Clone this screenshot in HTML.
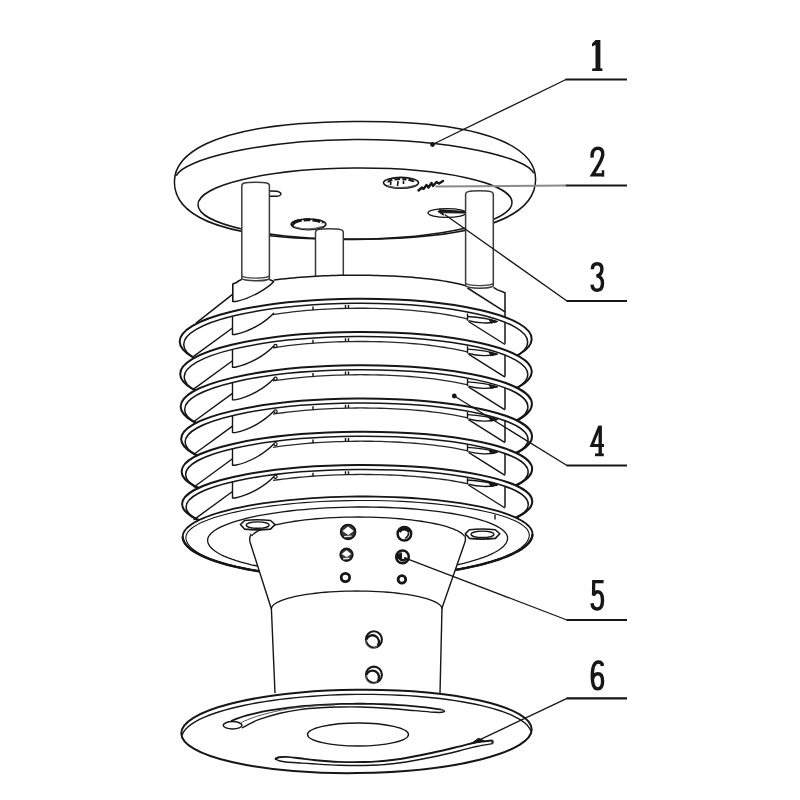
<!DOCTYPE html>
<html><head><meta charset="utf-8"><title>Figure</title>
<style>
html,body{margin:0;padding:0;background:#fff;}
body{width:800px;height:800px;overflow:hidden;font-family:"Liberation Serif",serif;}
svg{display:block;}
</style></head><body>
<svg width="800" height="800" viewBox="0 0 800 800" stroke-linecap="butt" stroke-linejoin="round">
<defs><filter id="soft" x="0" y="0" width="800" height="800" filterUnits="userSpaceOnUse"><feGaussianBlur stdDeviation="0.55"/></filter></defs>
<rect width="800" height="800" fill="#fff"/>
<g filter="url(#soft)">
<g transform="translate(355 -0.4) skewY(-0.4) translate(-355 0)">
<path d="M174.4,181 C174.4,159 199,121.8 355,121.8 C511,121.8 535.6,159 535.6,181 C535.6,209 507,239.8 355,239.8 C203,239.8 174.4,209 174.4,181 Z" fill="#fff" stroke="#151515" stroke-width="1.5" />
<path d="M176.3,175 C182.1,159 261,139.8 355,139.8 C449,139.8 527.9,159 533.7,175" fill="none" stroke="#151515" stroke-width="1.5" />
<ellipse cx="355" cy="204" rx="157" ry="35.5" fill="none" stroke="#151515" stroke-width="1.5"/>
</g>
<ellipse cx="308.5" cy="224.3" rx="17.3" ry="5.3" fill="none" stroke="#151515" stroke-width="1.7"/>
<path d="M294.5,223.6 A14,3.6 0 0 1 322.5,223.2" fill="none" stroke="#151515" stroke-width="3" stroke-dasharray="8.5 2 6.5 2 8 2 20"/>
<path d="M292.5,225.5 q2,-4 7,-5" fill="none" stroke="#151515" stroke-width="2.4" />
<path d="M295,227 q13.5,4.2 27,-0.4" fill="none" stroke="#666" stroke-width="1.3" />
<ellipse cx="401" cy="182.8" rx="17.5" ry="5.4" fill="none" stroke="#151515" stroke-width="1.6"/>
<path d="M388.5,182.4 A12.5,3.2 0 0 1 413.5,182" fill="none" stroke="#151515" stroke-width="2.2" stroke-dasharray="5 2.2 5.5 2.2 4 2 20"/>
<path d="M390.5,185.2 l0.4,-3.4 M397.5,186 l0.6,-5 M403.5,184 l0,-3.5" fill="none" stroke="#151515" stroke-width="1.6" />
<path d="M387,185.8 q14,4 28.5,-0.4" fill="none" stroke="#555" stroke-width="1.2" />
<path d="M418.5,190.5 l3.5,-3 l1.5,1.5 l3,-4 l2,2.5 l3,-4.5 l1.5,3 l3.5,-4 l2.5,1.5 l4,-2.5" fill="none" stroke="#151515" stroke-width="2.4" stroke-linejoin="round" stroke-linecap="round"/>
<ellipse cx="447" cy="213" rx="19" ry="4.3" fill="none" stroke="#151515" stroke-width="1.3"/>
<path d="M439.5,209.8 L465,211.5 L465,213 L441,212.6 Z" fill="#151515" stroke="#151515" stroke-width="1.2" />
<path d="M438,211 l6,4" fill="none" stroke="#151515" stroke-width="1.6" />
<path d="M270,191 l7,0.2 q4,1 4,3 q-1,2 -4,2 l-7,0" fill="none" stroke="#151515" stroke-width="1.4" />
<path d="M315.5,290 L315.5,232.4 C315.5,229.8 318,228.8 329.4,228.8 C340.8,228.8 343.3,229.8 343.3,232.4 L343.3,290" fill="#fff" stroke="#3a3a3a" stroke-width="1.5" />
<path d="M232.5,340 L232.5,283.75 L240,279.5 L242.5,278.8 L270,278.8 L274,280.06 L277.84,279.55 L281.68,279.08 L285.52,278.65 L289.36,278.25 L293.2,277.88 L297.04,277.54 L300.88,277.23 L304.72,276.94 L308.56,276.68 L312.4,276.44 L316.24,276.22 L320.08,276.03 L323.92,275.86 L327.76,275.71 L331.6,275.58 L335.44,275.46 L339.28,275.37 L343.12,275.3 L346.96,275.25 L350.8,275.22 L354.64,275.2 L358.48,275.2 L362.32,275.23 L366.16,275.27 L370,275.33 L373.84,275.41 L377.68,275.51 L381.52,275.63 L385.36,275.77 L389.2,275.93 L393.04,276.11 L396.88,276.32 L400.72,276.54 L404.56,276.79 L408.4,277.06 L412.24,277.36 L416.08,277.69 L419.92,278.04 L423.76,278.42 L427.6,278.84 L431.44,279.29 L435.28,279.78 L439.12,280.31 L442.96,280.88 L446.8,281.51 L450.64,282.19 L454.48,282.94 L458.32,283.78 L462.16,284.72 L466,285.79 L493.5,287.3 L497,289.6 L505,292.6 L505,340Z" fill="#fff" stroke="none" stroke-width="0" />
<path d="M274,280.06 L277.84,279.55 L281.68,279.08 L285.52,278.65 L289.36,278.25 L293.2,277.88 L297.04,277.54 L300.88,277.23 L304.72,276.94 L308.56,276.68 L312.4,276.44 L316.24,276.22 L320.08,276.03 L323.92,275.86 L327.76,275.71 L331.6,275.58 L335.44,275.46 L339.28,275.37 L343.12,275.3 L346.96,275.25 L350.8,275.22 L354.64,275.2 L358.48,275.2 L362.32,275.23 L366.16,275.27 L370,275.33 L373.84,275.41 L377.68,275.51 L381.52,275.63 L385.36,275.77 L389.2,275.93 L393.04,276.11 L396.88,276.32 L400.72,276.54 L404.56,276.79 L408.4,277.06 L412.24,277.36 L416.08,277.69 L419.92,278.04 L423.76,278.42 L427.6,278.84 L431.44,279.29 L435.28,279.78 L439.12,280.31 L442.96,280.88 L446.8,281.51 L450.64,282.19 L454.48,282.94 L458.32,283.78 L462.16,284.72 L466,285.79" fill="none" stroke="#151515" stroke-width="1.5" />
<path d="M232.8,302 L232.8,284 L236.5,282.6 L238,281.3 L241.8,279.4" fill="none" stroke="#151515" stroke-width="1.6" />
<path d="M269.4,279.6 L274,281.4" fill="none" stroke="#151515" stroke-width="1.6" />
<path d="M274,281.2 C268,288 252,298 236,301.6 L232.5,301.6" fill="none" stroke="#151515" stroke-width="1.5" />
<line x1="232.5" y1="294.4" x2="196" y2="323.2" stroke="#151515" stroke-width="1.5"/>
<path d="M493.5,287.4 L497,289.6 L505,292.7 L505,318" fill="none" stroke="#151515" stroke-width="1.5" />
<line x1="467.5" y1="288" x2="505" y2="311.8" stroke="#151515" stroke-width="1.5"/>
<path d="M241.8,278.2 L241.8,185.8 C241.8,183.2 244.3,182.2 255.6,182.2 C266.9,182.2 269.4,183.2 269.4,185.8 L269.4,278.2 A13.8,2.6 0 0 1 241.8,278.2" fill="#fff" stroke="#3a3a3a" stroke-width="1.5" />
<path d="M241.8,275.6 A13.8,2.6 0 0 0 269.4,275.6" fill="none" stroke="#444" stroke-width="1.3" />
<path d="M465.6,285.6 L465.6,194.4 C465.6,191.8 468.1,190.8 479.45,190.8 C490.8,190.8 493.3,191.8 493.3,194.4 L493.3,285.6 A13.85,2.6 0 0 1 465.6,285.6" fill="#fff" stroke="#3a3a3a" stroke-width="1.5" />
<path d="M465.6,283 A13.85,2.6 0 0 0 493.3,283" fill="none" stroke="#444" stroke-width="1.3" />
<g transform="translate(355.7 0) skewY(-0.42) translate(-355.7 0)">
<ellipse cx="355.7" cy="340.2" rx="176" ry="41.45" fill="#fff" stroke="#151515" stroke-width="2"/>
<ellipse cx="355.7" cy="343.2" rx="172" ry="39.95" fill="none" stroke="#151515" stroke-width="1.5"/>
<path d="M273,314 L277.88,313.29 L282.75,312.63 L287.62,312.03 L292.5,311.48 L297.38,310.98 L302.25,310.53 L307.12,310.12 L312,309.76 L316.88,309.43 L321.75,309.15 L326.62,308.91 L331.5,308.7 L336.38,308.54 L341.25,308.41 L346.12,308.32 L351,308.27 L355.88,308.25 L360.75,308.27 L365.62,308.33 L370.5,308.42 L375.38,308.55 L380.25,308.72 L385.12,308.92 L390,309.17 L394.88,309.45 L399.75,309.78 L404.62,310.15 L409.5,310.56 L414.38,311.01 L419.25,311.52 L424.12,312.07 L429,312.68 L433.88,313.34 L438.75,314.05 L443.62,314.84 L448.5,315.69 L453.38,316.61 L458.25,317.63 L463.12,318.73 L468,319.95" fill="none" stroke="#2a2a2a" stroke-width="1.3" />
<line x1="313" y1="306.29" x2="313" y2="309.69" stroke="#151515" stroke-width="1.4"/>
<line x1="345.5" y1="304.93" x2="345.5" y2="308.33" stroke="#151515" stroke-width="1.4"/>
<line x1="348.5" y1="304.89" x2="348.5" y2="308.29" stroke="#151515" stroke-width="1.4"/>
</g>
<path d="M232.5,316.23 L232.5,334.5 L235,334.5 C250,331.5 265,322.5 274,313" fill="none" stroke="#151515" stroke-width="1.4" />
<line x1="232.5" y1="328" x2="193.6" y2="356.4" stroke="#151515" stroke-width="1.4"/>
<line x1="505" y1="322.27" x2="505" y2="343.8" stroke="#151515" stroke-width="1.5"/>
<line x1="467.5" y1="313.5" x2="467.5" y2="320.7" stroke="#151515" stroke-width="1.4"/>
<path d="M467.5,316.5 C478,317 490,319 497,321.5 C490,323.5 478,323.7 468.5,320.7" fill="none" stroke="#151515" stroke-width="1.3" />
<path d="M489,319.3 L497.5,321.5 L491,322.9 Z" fill="#151515" stroke="#151515" stroke-width="1" />
<line x1="468.5" y1="321.5" x2="505" y2="344.5" stroke="#151515" stroke-width="1.4"/>
<g transform="translate(355.7 0) skewY(-0.42) translate(-355.7 0)">
<ellipse cx="356" cy="372.7" rx="175.82" ry="40.7" fill="#fff" stroke="#151515" stroke-width="2"/>
<ellipse cx="356" cy="375.7" rx="171.82" ry="39.2" fill="none" stroke="#151515" stroke-width="1.5"/>
<path d="M273,347.17 L277.88,346.47 L282.75,345.82 L287.62,345.23 L292.5,344.69 L297.38,344.2 L302.25,343.75 L307.12,343.35 L312,342.99 L316.88,342.68 L321.75,342.4 L326.62,342.16 L331.5,341.96 L336.38,341.79 L341.25,341.66 L346.12,341.57 L351,341.52 L355.88,341.5 L360.75,341.52 L365.62,341.57 L370.5,341.66 L375.38,341.78 L380.25,341.95 L385.12,342.15 L390,342.38 L394.88,342.66 L399.75,342.98 L404.62,343.33 L409.5,343.73 L414.38,344.18 L419.25,344.67 L424.12,345.2 L429,345.79 L433.88,346.43 L438.75,347.13 L443.62,347.9 L448.5,348.72 L453.38,349.63 L458.25,350.61 L463.12,351.69 L468,352.87" fill="none" stroke="#2a2a2a" stroke-width="1.3" />
<line x1="313" y1="339.52" x2="313" y2="342.92" stroke="#151515" stroke-width="1.4"/>
<line x1="345.5" y1="338.18" x2="345.5" y2="341.58" stroke="#151515" stroke-width="1.4"/>
<line x1="348.5" y1="338.14" x2="348.5" y2="341.54" stroke="#151515" stroke-width="1.4"/>
</g>
<path d="M232.5,349.35 L232.5,367.2 L235,367.2 C250,364.2 265,355.2 274,345.7" fill="none" stroke="#151515" stroke-width="1.4" />
<ellipse cx="275.5" cy="346" rx="1.6" ry="1.6" fill="none" stroke="#151515" stroke-width="1.2"/>
<line x1="232.5" y1="360.7" x2="193.6" y2="389.1" stroke="#151515" stroke-width="1.4"/>
<line x1="505" y1="355.08" x2="505" y2="376.5" stroke="#151515" stroke-width="1.5"/>
<line x1="467.5" y1="346.2" x2="467.5" y2="353.4" stroke="#151515" stroke-width="1.4"/>
<path d="M467.5,349.2 C478,349.7 490,351.7 497,354.2 C490,356.2 478,356.4 468.5,353.4" fill="none" stroke="#151515" stroke-width="1.3" />
<path d="M489,352 L497.5,354.2 L491,355.6 Z" fill="#151515" stroke="#151515" stroke-width="1" />
<line x1="468.5" y1="354.2" x2="505" y2="377.19" stroke="#151515" stroke-width="1.4"/>
<g transform="translate(355.7 0) skewY(-0.42) translate(-355.7 0)">
<ellipse cx="356.3" cy="405.2" rx="175.64" ry="39.95" fill="#fff" stroke="#151515" stroke-width="2"/>
<ellipse cx="356.3" cy="408.2" rx="171.64" ry="38.45" fill="none" stroke="#151515" stroke-width="1.5"/>
<path d="M273,380.34 L277.88,379.65 L282.75,379.02 L287.62,378.43 L292.5,377.9 L297.38,377.42 L302.25,376.98 L307.12,376.58 L312,376.23 L316.88,375.92 L321.75,375.64 L326.62,375.41 L331.5,375.21 L336.38,375.04 L341.25,374.92 L346.12,374.83 L351,374.77 L355.88,374.75 L360.75,374.76 L365.62,374.81 L370.5,374.9 L375.38,375.02 L380.25,375.18 L385.12,375.37 L390,375.6 L394.88,375.87 L399.75,376.17 L404.62,376.52 L409.5,376.91 L414.38,377.34 L419.25,377.82 L424.12,378.34 L429,378.91 L433.88,379.53 L438.75,380.22 L443.62,380.96 L448.5,381.76 L453.38,382.64 L458.25,383.6 L463.12,384.64 L468,385.79" fill="none" stroke="#2a2a2a" stroke-width="1.3" />
<line x1="313" y1="372.76" x2="313" y2="376.16" stroke="#151515" stroke-width="1.4"/>
<line x1="345.5" y1="371.44" x2="345.5" y2="374.84" stroke="#151515" stroke-width="1.4"/>
<line x1="348.5" y1="371.39" x2="348.5" y2="374.79" stroke="#151515" stroke-width="1.4"/>
</g>
<path d="M232.5,382.47 L232.5,399.9 L235,399.9 C250,396.9 265,387.9 274,378.4" fill="none" stroke="#151515" stroke-width="1.4" />
<ellipse cx="275.5" cy="378.7" rx="1.6" ry="1.6" fill="none" stroke="#151515" stroke-width="1.2"/>
<line x1="232.5" y1="393.4" x2="193.6" y2="421.8" stroke="#151515" stroke-width="1.4"/>
<line x1="505" y1="387.9" x2="505" y2="409.2" stroke="#151515" stroke-width="1.5"/>
<line x1="467.5" y1="378.9" x2="467.5" y2="386.1" stroke="#151515" stroke-width="1.4"/>
<path d="M467.5,381.9 C478,382.4 490,384.4 497,386.9 C490,388.9 478,389.1 468.5,386.1" fill="none" stroke="#151515" stroke-width="1.3" />
<path d="M489,384.7 L497.5,386.9 L491,388.3 Z" fill="#151515" stroke="#151515" stroke-width="1" />
<line x1="468.5" y1="386.9" x2="505" y2="409.89" stroke="#151515" stroke-width="1.4"/>
<g transform="translate(355.7 0) skewY(-0.42) translate(-355.7 0)">
<ellipse cx="356.6" cy="437.7" rx="175.46" ry="39.2" fill="#fff" stroke="#151515" stroke-width="2"/>
<ellipse cx="356.6" cy="440.7" rx="171.46" ry="37.7" fill="none" stroke="#151515" stroke-width="1.5"/>
<path d="M273,413.51 L277.88,412.83 L282.75,412.21 L287.62,411.63 L292.5,411.11 L297.38,410.64 L302.25,410.21 L307.12,409.82 L312,409.47 L316.88,409.16 L321.75,408.89 L326.62,408.65 L331.5,408.46 L336.38,408.3 L341.25,408.17 L346.12,408.08 L351,408.02 L355.88,408 L360.75,408.01 L365.62,408.06 L370.5,408.14 L375.38,408.26 L380.25,408.41 L385.12,408.59 L390,408.81 L394.88,409.07 L399.75,409.37 L404.62,409.71 L409.5,410.08 L414.38,410.5 L419.25,410.97 L424.12,411.47 L429,412.03 L433.88,412.64 L438.75,413.3 L443.62,414.02 L448.5,414.8 L453.38,415.66 L458.25,416.59 L463.12,417.6 L468,418.72" fill="none" stroke="#2a2a2a" stroke-width="1.3" />
<line x1="313" y1="406" x2="313" y2="409.4" stroke="#151515" stroke-width="1.4"/>
<line x1="345.5" y1="404.69" x2="345.5" y2="408.09" stroke="#151515" stroke-width="1.4"/>
<line x1="348.5" y1="404.65" x2="348.5" y2="408.05" stroke="#151515" stroke-width="1.4"/>
</g>
<path d="M232.5,415.59 L232.5,432.6 L235,432.6 C250,429.6 265,420.6 274,411.1" fill="none" stroke="#151515" stroke-width="1.4" />
<ellipse cx="275.5" cy="411.4" rx="1.6" ry="1.6" fill="none" stroke="#151515" stroke-width="1.2"/>
<line x1="232.5" y1="426.1" x2="193.6" y2="454.5" stroke="#151515" stroke-width="1.4"/>
<line x1="505" y1="420.72" x2="505" y2="441.9" stroke="#151515" stroke-width="1.5"/>
<line x1="467.5" y1="411.6" x2="467.5" y2="418.8" stroke="#151515" stroke-width="1.4"/>
<path d="M467.5,414.6 C478,415.1 490,417.1 497,419.6 C490,421.6 478,421.8 468.5,418.8" fill="none" stroke="#151515" stroke-width="1.3" />
<path d="M489,417.4 L497.5,419.6 L491,421 Z" fill="#151515" stroke="#151515" stroke-width="1" />
<line x1="468.5" y1="419.6" x2="505" y2="442.6" stroke="#151515" stroke-width="1.4"/>
<g transform="translate(355.7 0) skewY(-0.42) translate(-355.7 0)">
<ellipse cx="356.9" cy="470.2" rx="175.28" ry="38.45" fill="#fff" stroke="#151515" stroke-width="2"/>
<ellipse cx="356.9" cy="473.2" rx="171.28" ry="36.95" fill="none" stroke="#151515" stroke-width="1.5"/>
<path d="M273,446.67 L277.88,446.01 L282.75,445.39 L287.62,444.83 L292.5,444.32 L297.38,443.85 L302.25,443.43 L307.12,443.05 L312,442.7 L316.88,442.4 L321.75,442.13 L326.62,441.9 L331.5,441.71 L336.38,441.55 L341.25,441.42 L346.12,441.33 L351,441.27 L355.88,441.25 L360.75,441.26 L365.62,441.3 L370.5,441.38 L375.38,441.49 L380.25,441.64 L385.12,441.82 L390,442.03 L394.88,442.28 L399.75,442.57 L404.62,442.9 L409.5,443.26 L414.38,443.67 L419.25,444.12 L424.12,444.61 L429,445.15 L433.88,445.74 L438.75,446.39 L443.62,447.09 L448.5,447.85 L453.38,448.68 L458.25,449.58 L463.12,450.57 L468,451.65" fill="none" stroke="#2a2a2a" stroke-width="1.3" />
<line x1="313" y1="439.24" x2="313" y2="442.64" stroke="#151515" stroke-width="1.4"/>
<line x1="345.5" y1="437.94" x2="345.5" y2="441.34" stroke="#151515" stroke-width="1.4"/>
<line x1="348.5" y1="437.9" x2="348.5" y2="441.3" stroke="#151515" stroke-width="1.4"/>
</g>
<path d="M232.5,448.7 L232.5,465.3 L235,465.3 C250,462.3 265,453.3 274,443.8" fill="none" stroke="#151515" stroke-width="1.4" />
<ellipse cx="275.5" cy="444.1" rx="1.6" ry="1.6" fill="none" stroke="#151515" stroke-width="1.2"/>
<line x1="232.5" y1="458.8" x2="193.6" y2="487.2" stroke="#151515" stroke-width="1.4"/>
<line x1="505" y1="453.54" x2="505" y2="474.6" stroke="#151515" stroke-width="1.5"/>
<line x1="467.5" y1="444.3" x2="467.5" y2="451.5" stroke="#151515" stroke-width="1.4"/>
<path d="M467.5,447.3 C478,447.8 490,449.8 497,452.3 C490,454.3 478,454.5 468.5,451.5" fill="none" stroke="#151515" stroke-width="1.3" />
<path d="M489,450.1 L497.5,452.3 L491,453.7 Z" fill="#151515" stroke="#151515" stroke-width="1" />
<line x1="468.5" y1="452.3" x2="505" y2="475.3" stroke="#151515" stroke-width="1.4"/>
<g transform="translate(355.7 0) skewY(-0.42) translate(-355.7 0)">
<ellipse cx="357.2" cy="502.7" rx="175.1" ry="37.7" fill="#fff" stroke="#151515" stroke-width="2"/>
<ellipse cx="357.2" cy="505.7" rx="171.1" ry="36.2" fill="none" stroke="#151515" stroke-width="1.5"/>
<path d="M273,479.84 L277.88,479.18 L282.75,478.58 L287.62,478.03 L292.5,477.53 L297.38,477.07 L302.25,476.65 L307.12,476.28 L312,475.94 L316.88,475.64 L321.75,475.38 L326.62,475.15 L331.5,474.96 L336.38,474.8 L341.25,474.68 L346.12,474.58 L351,474.53 L355.88,474.5 L360.75,474.51 L365.62,474.55 L370.5,474.62 L375.38,474.73 L380.25,474.87 L385.12,475.04 L390,475.25 L394.88,475.49 L399.75,475.77 L404.62,476.09 L409.5,476.44 L414.38,476.84 L419.25,477.27 L424.12,477.75 L429,478.28 L433.88,478.85 L438.75,479.47 L443.62,480.15 L448.5,480.89 L453.38,481.7 L458.25,482.58 L463.12,483.54 L468,484.59" fill="none" stroke="#2a2a2a" stroke-width="1.3" />
<line x1="313" y1="472.47" x2="313" y2="475.87" stroke="#151515" stroke-width="1.4"/>
<line x1="345.5" y1="471.19" x2="345.5" y2="474.59" stroke="#151515" stroke-width="1.4"/>
<line x1="348.5" y1="471.15" x2="348.5" y2="474.55" stroke="#151515" stroke-width="1.4"/>
</g>
<path d="M232.5,481.82 L232.5,498 L235,498 C250,495 265,486 274,476.5" fill="none" stroke="#151515" stroke-width="1.4" />
<ellipse cx="275.5" cy="476.8" rx="1.6" ry="1.6" fill="none" stroke="#151515" stroke-width="1.2"/>
<line x1="232.5" y1="491.5" x2="193.6" y2="519.9" stroke="#151515" stroke-width="1.4"/>
<line x1="505" y1="486.37" x2="505" y2="507.3" stroke="#151515" stroke-width="1.5"/>
<line x1="467.5" y1="477" x2="467.5" y2="484.2" stroke="#151515" stroke-width="1.4"/>
<path d="M467.5,480 C478,480.5 490,482.5 497,485 C490,487 478,487.2 468.5,484.2" fill="none" stroke="#151515" stroke-width="1.3" />
<path d="M489,482.8 L497.5,485 L491,486.4 Z" fill="#151515" stroke="#151515" stroke-width="1" />
<line x1="468.5" y1="485" x2="505" y2="508" stroke="#151515" stroke-width="1.4"/>
<g transform="translate(357.6 0) skewY(-0.41) translate(-357.6 0)">
<path d="M182.7,535.3 L182.94,533.27 L183.66,531.24 L184.85,529.23 L186.52,527.23 L188.66,525.26 L191.26,523.31 L194.32,521.4 L197.82,519.52 L201.76,517.69 L206.13,515.9 L210.92,514.17 L216.1,512.49 L221.68,510.88 L227.62,509.34 L233.93,507.86 L240.57,506.47 L247.53,505.15 L254.8,503.91 L262.34,502.76 L270.15,501.7 L278.2,500.73 L286.46,499.85 L294.92,499.08 L303.55,498.4 L312.33,497.82 L321.24,497.35 L330.24,496.98 L339.32,496.71 L348.45,496.55 L357.6,496.5 L366.75,496.55 L375.88,496.71 L384.96,496.98 L393.96,497.35 L402.87,497.82 L411.65,498.4 L420.28,499.08 L428.74,499.85 L437,500.73 L445.05,501.7 L452.86,502.76 L460.4,503.91 L467.67,505.15 L474.63,506.47 L481.27,507.86 L487.58,509.34 L493.52,510.88 L499.1,512.49 L504.28,514.17 L509.07,515.9 L513.44,517.69 L517.38,519.52 L520.88,521.4 L523.94,523.31 L526.54,525.26 L528.68,527.23 L530.35,529.23 L531.54,531.24 L532.26,533.27 L532.5,535.3 L532.26,537.53 L531.54,539.76 L530.35,541.98 L528.68,544.18 L526.54,546.35 L523.94,548.5 L520.88,550.6 L517.38,552.67 L513.44,554.69 L509.07,556.65 L504.28,558.56 L499.1,560.4 L493.52,562.17 L487.58,563.87 L481.27,565.49 L474.63,567.03 L467.67,568.48 L460.4,569.85 L452.86,571.11 L445.05,572.28 L437,573.35 L428.74,574.31 L420.28,575.16 L411.65,575.91 L402.87,576.55 L393.96,577.07 L384.96,577.47 L375.88,577.77 L366.75,577.94 L357.6,578 L348.45,577.94 L339.32,577.77 L330.24,577.47 L321.24,577.07 L312.33,576.55 L303.55,575.91 L294.92,575.16 L286.46,574.31 L278.2,573.35 L270.15,572.28 L262.34,571.11 L254.8,569.85 L247.53,568.48 L240.57,567.03 L233.93,565.49 L227.62,563.87 L221.68,562.17 L216.1,560.4 L210.92,558.56 L206.13,556.65 L201.76,554.69 L197.82,552.67 L194.32,550.6 L191.26,548.5 L188.66,546.35 L186.52,544.18 L184.85,541.98 L183.66,539.76 L182.94,537.53 L182.7,535.3Z" fill="#fff" stroke="#151515" stroke-width="1.8" />
<path d="M532.5,535.3 L532.26,537.53 L531.54,539.76 L530.35,541.98 L528.68,544.18 L526.54,546.35 L523.94,548.5 L520.88,550.6 L517.38,552.67 L513.44,554.69 L509.07,556.65 L504.28,558.56 L499.1,560.4 L493.52,562.17 L487.58,563.87 L481.27,565.49 L474.63,567.03 L467.67,568.48 L460.4,569.85 L452.86,571.11 L445.05,572.28 L437,573.35 L428.74,574.31 L420.28,575.16 L411.65,575.91 L402.87,576.55 L393.96,577.07 L384.96,577.47 L375.88,577.77 L366.75,577.94 L357.6,578 L348.45,577.94 L339.32,577.77 L330.24,577.47 L321.24,577.07 L312.33,576.55 L303.55,575.91 L294.92,575.16 L286.46,574.31 L278.2,573.35 L270.15,572.28 L262.34,571.11 L254.8,569.85 L247.53,568.48 L240.57,567.03 L233.93,565.49 L227.62,563.87 L221.68,562.17 L216.1,560.4 L210.92,558.56 L206.13,556.65 L201.76,554.69 L197.82,552.67 L194.32,550.6 L191.26,548.5 L188.66,546.35 L186.52,544.18 L184.85,541.98 L183.66,539.76 L182.94,537.53 L182.7,535.3" fill="none" stroke="#151515" stroke-width="2.3" />
<line x1="495" y1="515.5" x2="495" y2="520.5" stroke="#151515" stroke-width="1.4"/>
<path d="M185.9,536.3 L186.14,534.43 L186.84,532.56 L188.01,530.7 L189.65,528.86 L191.75,527.03 L194.3,525.24 L197.3,523.47 L200.74,521.74 L204.61,520.05 L208.9,518.4 L213.6,516.8 L218.69,515.26 L224.16,513.77 L230,512.35 L236.19,510.99 L242.71,509.7 L249.55,508.48 L256.68,507.34 L264.09,506.28 L271.75,505.3 L279.65,504.4 L287.76,503.6 L296.07,502.88 L304.54,502.25 L313.16,501.72 L321.9,501.28 L330.74,500.94 L339.65,500.7 L348.61,500.55 L357.6,500.5 L366.59,500.55 L375.55,500.7 L384.46,500.94 L393.3,501.28 L402.04,501.72 L410.66,502.25 L419.13,502.88 L427.44,503.6 L435.55,504.4 L443.45,505.3 L451.11,506.28 L458.52,507.34 L465.65,508.48 L472.49,509.7 L479.01,510.99 L485.2,512.35 L491.04,513.77 L496.51,515.26 L501.6,516.8 L506.3,518.4 L510.59,520.05 L514.46,521.74 L517.9,523.47 L520.9,525.24 L523.45,527.03 L525.55,528.86 L527.19,530.7 L528.36,532.56 L529.06,534.43 L529.3,536.3 L529.06,538.45 L528.36,540.6 L527.19,542.73 L525.55,544.85 L523.45,546.94 L520.9,549 L517.9,551.03 L514.46,553.02 L510.59,554.96 L506.3,556.85 L501.6,558.68 L496.51,560.46 L491.04,562.17 L485.2,563.8 L479.01,565.36 L472.49,566.84 L465.65,568.24 L458.52,569.55 L451.11,570.77 L443.45,571.89 L435.55,572.92 L427.44,573.85 L419.13,574.67 L410.66,575.39 L402.04,576 L393.3,576.5 L384.46,576.89 L375.55,577.17 L366.59,577.34 L357.6,577.4 L348.61,577.34 L339.65,577.17 L330.74,576.89 L321.9,576.5 L313.16,576 L304.54,575.39 L296.07,574.67 L287.76,573.85 L279.65,572.92 L271.75,571.89 L264.09,570.77 L256.68,569.55 L249.55,568.24 L242.71,566.84 L236.19,565.36 L230,563.8 L224.16,562.17 L218.69,560.46 L213.6,558.68 L208.9,556.85 L204.61,554.96 L200.74,553.02 L197.3,551.03 L194.3,549 L191.75,546.94 L189.65,544.85 L188.01,542.73 L186.84,540.6 L186.14,538.45 L185.9,536.3Z" fill="none" stroke="#151515" stroke-width="1.1" />
<path d="M207.6,539.2 L207.81,537.51 L208.42,535.83 L209.45,534.16 L210.88,532.51 L212.71,530.87 L214.94,529.25 L217.56,527.66 L220.57,526.1 L223.95,524.58 L227.7,523.1 L231.8,521.66 L236.25,520.27 L241.03,518.94 L246.13,517.65 L251.53,516.43 L257.23,515.27 L263.2,514.18 L269.43,513.15 L275.9,512.19 L282.6,511.31 L289.5,510.51 L296.59,509.78 L303.84,509.14 L311.25,508.58 L318.78,508.1 L326.41,507.7 L334.13,507.4 L341.92,507.18 L349.75,507.04 L357.6,507 L365.45,507.04 L373.28,507.18 L381.07,507.4 L388.79,507.7 L396.42,508.1 L403.95,508.58 L411.36,509.14 L418.61,509.78 L425.7,510.51 L432.6,511.31 L439.3,512.19 L445.77,513.15 L452,514.18 L457.97,515.27 L463.67,516.43 L469.07,517.65 L474.17,518.94 L478.95,520.27 L483.4,521.66 L487.5,523.1 L491.25,524.58 L494.63,526.1 L497.64,527.66 L500.26,529.25 L502.49,530.87 L504.32,532.51 L505.75,534.16 L506.78,535.83 L507.39,537.51 L507.6,539.2 L507.39,541.04 L506.78,542.87 L505.75,544.69 L504.32,546.5 L502.49,548.28 L500.26,550.05 L497.64,551.78 L494.63,553.48 L491.25,555.14 L487.5,556.75 L483.4,558.32 L478.95,559.83 L474.17,561.29 L469.07,562.69 L463.67,564.02 L457.97,565.28 L452,566.48 L445.77,567.6 L439.3,568.64 L432.6,569.6 L425.7,570.47 L418.61,571.27 L411.36,571.97 L403.95,572.58 L396.42,573.1 L388.79,573.53 L381.07,573.87 L373.28,574.11 L365.45,574.25 L357.6,574.3 L349.75,574.25 L341.92,574.11 L334.13,573.87 L326.41,573.53 L318.78,573.1 L311.25,572.58 L303.84,571.97 L296.59,571.27 L289.5,570.47 L282.6,569.6 L275.9,568.64 L269.43,567.6 L263.2,566.48 L257.23,565.28 L251.53,564.02 L246.13,562.69 L241.03,561.29 L236.25,559.83 L231.8,558.32 L227.7,556.75 L223.95,555.14 L220.57,553.48 L217.56,551.78 L214.94,550.05 L212.71,548.28 L210.88,546.5 L209.45,544.69 L208.42,542.87 L207.81,541.04 L207.6,539.2Z" fill="none" stroke="#151515" stroke-width="1.3" />
</g>
<path d="M250.5,539.2 L250.71,537.81 L251.35,536.42 L252.4,535.04 L253.88,533.68 L255.76,532.34 L258.05,531.03 L260.73,529.75 L263.8,528.51 L267.23,527.3 L271.03,526.15 L275.17,525.05 L279.64,524 L284.41,523.02 L289.48,522.09 L294.81,521.24 L300.4,520.46 L306.21,519.75 L312.23,519.11 L318.43,518.56 L324.78,518.09 L331.27,517.7 L337.86,517.39 L344.53,517.18 L351.25,517.04 L358,517 L364.75,517.04 L371.47,517.18 L378.14,517.39 L384.73,517.7 L391.22,518.09 L397.57,518.56 L403.77,519.11 L409.79,519.75 L415.6,520.46 L421.19,521.24 L426.52,522.09 L431.59,523.02 L436.36,524 L440.83,525.05 L444.97,526.15 L448.77,527.3 L452.2,528.51 L455.27,529.75 L457.95,531.03 L460.24,532.34 L462.12,533.68 L463.6,535.04 L464.65,536.42 L465.29,537.81 L465.5,539.2 L465.5,541 L442,608 L440,700 L275,700 L271.4,609 L250,541Z" fill="#fff" stroke="none" stroke-width="0" />
<path d="M251.55,536.11 L252.58,534.86 L253.95,533.62 L255.67,532.4 L257.72,531.2 L260.1,530.03 L262.8,528.89 L265.82,527.78 L269.13,526.71 L272.74,525.68 L276.62,524.69 L280.78,523.76 L285.18,522.87 L289.82,522.04 L294.69,521.26 L299.77,520.54 L305.03,519.88 L310.47,519.29 L316.07,518.76 L321.8,518.3 L327.65,517.9 L333.6,517.58 L339.63,517.33 L345.72,517.15 L351.85,517.04 L358,517 L364.15,517.04 L370.28,517.15 L376.37,517.33 L382.4,517.58 L388.35,517.9 L394.2,518.3 L399.93,518.76 L405.53,519.29 L410.97,519.88 L416.23,520.54 L421.31,521.26 L426.18,522.04 L430.82,522.87 L435.22,523.76 L439.38,524.69 L443.26,525.68 L446.87,526.71 L450.18,527.78 L453.2,528.89 L455.9,530.03 L458.28,531.2 L460.33,532.4 L462.05,533.62 L463.42,534.86 L464.45,536.11" fill="none" stroke="#151515" stroke-width="1.3" />
<path d="M251.2,533.8 Q249,538 250,542 L271.4,609 L275,693" fill="none" stroke="#151515" stroke-width="1.4" />
<path d="M465,535.2 Q466,539 465,542 L442,608 L440,693" fill="none" stroke="#151515" stroke-width="1.4" />
<path d="M271.3,609 L271.47,607.87 L271.97,606.74 L272.81,605.63 L273.98,604.52 L275.48,603.44 L277.3,602.37 L279.43,601.34 L281.86,600.33 L284.59,599.36 L287.61,598.42 L290.9,597.53 L294.45,596.68 L298.24,595.88 L302.26,595.13 L306.5,594.44 L310.94,593.8 L315.56,593.23 L320.34,592.71 L325.26,592.26 L330.31,591.88 L335.46,591.57 L340.7,591.32 L346,591.14 L351.34,591.04 L356.7,591 L362.06,591.04 L367.4,591.14 L372.7,591.32 L377.94,591.57 L383.09,591.88 L388.14,592.26 L393.06,592.71 L397.84,593.23 L402.46,593.8 L406.9,594.44 L411.14,595.13 L415.16,595.88 L418.95,596.68 L422.5,597.53 L425.79,598.42 L428.81,599.36 L431.54,600.33 L433.97,601.34 L436.1,602.37 L437.92,603.44 L439.42,604.52 L440.59,605.63 L441.43,606.74 L441.93,607.87 L442.1,609" fill="none" stroke="#151515" stroke-width="1.3" />
<ellipse cx="348.1" cy="531.9" rx="7" ry="7" fill="none" stroke="#151515" stroke-width="2.5"/>
<ellipse cx="348.1" cy="531.9" rx="6.4" ry="6.4" fill="#3a3a3a" stroke="#151515" stroke-width="0.1"/>
<path d="M342.5,531.1 L348.1,526.58 L353.7,531.1 L348.3,534.98 Z" fill="#fff" stroke="none" stroke-width="0" />
<path d="M344.18,536.66 l7.28,-0.56" fill="none" stroke="#eee" stroke-width="1.3" />
<ellipse cx="346.5" cy="554.75" rx="5.9" ry="5.9" fill="none" stroke="#151515" stroke-width="2.5"/>
<ellipse cx="346.5" cy="554.75" rx="5.3" ry="5.3" fill="#3a3a3a" stroke="#151515" stroke-width="0.1"/>
<path d="M341.78,553.95 L346.5,550.27 L351.22,553.95 L346.7,557.35 Z" fill="#fff" stroke="none" stroke-width="0" />
<path d="M343.2,558.76 l6.14,-0.47" fill="none" stroke="#eee" stroke-width="1.3" />
<ellipse cx="345.4" cy="577.5" rx="4.2" ry="4.2" fill="none" stroke="#151515" stroke-width="2.8"/>
<ellipse cx="404.4" cy="533.75" rx="6.8" ry="6.8" fill="none" stroke="#151515" stroke-width="2.5"/>
<path d="M399.5,532.05 a5.44,5.44 0 0 1 9.79,0.34" fill="none" stroke="#151515" stroke-width="2.6" />
<path d="M408.48,533.07 a5.44,5.44 0 0 1 -3.4,5.1" fill="none" stroke="#151515" stroke-width="1.6" />
<ellipse cx="402.5" cy="556.9" rx="6.3" ry="6.3" fill="none" stroke="#151515" stroke-width="2.5"/>
<path d="M395.2,556.9 L401.24,552.49 L401.87,560.68 Z" fill="#151515" stroke="#151515" stroke-width="1" />
<path d="M400.61,559.74 a4.41,4.41 0 0 0 5.98,-1.89" fill="none" stroke="#151515" stroke-width="2.4" />
<ellipse cx="401.9" cy="579.4" rx="3.8" ry="3.8" fill="none" stroke="#151515" stroke-width="2.8"/>
<ellipse cx="373.9" cy="639.5" rx="8" ry="8.2" fill="none" stroke="#151515" stroke-width="2.1"/>
<path d="M366.39,639.58 A6.5,6.5 0 1 1 377.48,645.98" fill="none" stroke="#151515" stroke-width="2.3" />
<path d="M366.39,639.58 A6.5,6.5 0 0 0 377.48,645.98" fill="none" stroke="#888" stroke-width="0.9" />
<ellipse cx="373.9" cy="674.8" rx="8" ry="8.2" fill="none" stroke="#151515" stroke-width="2.1"/>
<path d="M366.39,674.88 A6.5,6.5 0 1 1 377.48,681.28" fill="none" stroke="#151515" stroke-width="2.3" />
<path d="M366.39,674.88 A6.5,6.5 0 0 0 377.48,681.28" fill="none" stroke="#888" stroke-width="0.9" />
<path d="M240.5,524.5 l4,-4 q13,-1.5 26,0 l4.5,4 l-4.5,4.6 q-13,1.5 -26,0 Z" fill="#fff" stroke="#151515" stroke-width="1.6" />
<ellipse cx="257.7" cy="525.1" rx="11.5" ry="3.2" fill="none" stroke="#151515" stroke-width="1.4"/>
<path d="M465.3,533.75 l4,-4 q13,-1.5 26,0 l4.5,4 l-4.5,4.6 q-13,1.5 -26,0 Z" fill="#fff" stroke="#151515" stroke-width="1.6" />
<ellipse cx="482.5" cy="534.35" rx="11.5" ry="3.2" fill="none" stroke="#151515" stroke-width="1.4"/>
<ellipse cx="356.5" cy="731.4" rx="175.2" ry="41.7" fill="#fff" stroke="#151515" stroke-width="2" transform="rotate(-0.65 356.5 731.4)"/>
<path d="M182.13,733.19 L182.95,731.11 L184.22,729.05 L185.91,727 L188.03,724.98 L190.57,722.98 L193.53,721.02 L196.9,719.09 L200.66,717.21 L204.81,715.38 L209.35,713.59 L214.25,711.86 L219.51,710.2 L225.11,708.6 L231.04,707.06 L237.29,705.6 L243.83,704.22 L250.65,702.91 L257.74,701.69 L265.08,700.56 L272.65,699.51 L280.42,698.56 L288.39,697.7 L296.52,696.93 L304.81,696.26 L313.23,695.7 L321.75,695.23 L330.36,694.87 L339.04,694.61 L347.76,694.45 L356.5,694.4 L365.24,694.45 L373.96,694.61 L382.64,694.87 L391.25,695.23 L399.77,695.7 L408.19,696.26 L416.48,696.93 L424.61,697.7 L432.58,698.56 L440.35,699.51 L447.92,700.56 L455.26,701.69 L462.35,702.91 L469.17,704.22 L475.71,705.6 L481.96,707.06 L487.89,708.6 L493.49,710.2 L498.75,711.86 L503.65,713.59 L508.19,715.38 L512.34,717.21 L516.1,719.09 L519.47,721.02 L522.43,722.98 L524.97,724.98 L527.09,727 L528.78,729.05 L530.05,731.11 L530.87,733.19" fill="none" stroke="#151515" stroke-width="1.4" transform="rotate(-0.65 356.5 731.4)"/>
<ellipse cx="358" cy="734.5" rx="50.5" ry="11.5" fill="none" stroke="#151515" stroke-width="1.4"/>
<path d="M231,720.98 L236.26,718.81 L241.53,716.99 L246.79,715.43 L252.05,714.05 L257.31,712.83 L262.57,711.73 L267.84,710.74 L273.1,709.84 L278.36,709.03 L283.62,708.3 L288.89,707.63 L294.15,707.02 L299.41,706.48 L304.68,705.99 L309.94,705.56 L315.2,705.17 L320.46,704.84 L325.73,704.55 L330.99,704.31 L336.25,704.11 L341.51,703.96 L346.77,703.85 L352.04,703.78 L357.3,703.75 L362.56,703.77 L367.82,703.82 L373.09,703.92 L378.35,704.07 L383.61,704.25 L388.88,704.48 L394.14,704.76 L399.4,705.08 L404.66,705.45 L409.93,705.87 L415.19,706.35 L420.45,706.87 L425.71,707.46 L430.98,708.11 L436.24,708.83 L441.5,709.62" fill="none" stroke="#151515" stroke-width="1.8" />
<path d="M242,728 C243.33,727.27 247,725.07 250,723.6 C253,722.13 255,720.93 260,719.2 C265,717.47 273.33,714.8 280,713.2 C286.67,711.6 293.33,710.5 300,709.6 C306.67,708.7 313.33,708.23 320,707.8 C326.67,707.37 333.33,707.13 340,707 C346.67,706.87 351.67,706.75 360,707 C368.33,707.25 380.83,707.9 390,708.5 C399.17,709.1 407.5,709.97 415,710.6 C422.5,711.23 430.5,712.02 435,712.3 C439.5,712.58 440.4,712.52 442,712.3 C443.6,712.08 444.68,711.47 444.6,711 C444.52,710.53 442.02,709.75 441.5,709.5" fill="none" stroke="#151515" stroke-width="1.4" />
<path d="M241,722.5 C242.5,721.88 246.83,719.98 250,718.8 C253.17,717.62 255,716.8 260,715.4 C265,714 273.33,711.77 280,710.4 C286.67,709.03 293.33,708 300,707.2 C306.67,706.4 314.17,705.97 320,705.6 C325.83,705.23 332.5,705.1 335,705" fill="none" stroke="#555" stroke-width="1" />
<ellipse cx="232.6" cy="725.3" rx="9.4" ry="3.7" fill="#fff" stroke="#151515" stroke-width="1.5"/>
<path d="M274.9,758.9 C275.58,758.63 277.11,757.63 279,757.3 C280.89,756.97 282.75,756.73 286.25,756.9 C289.75,757.07 295.62,757.8 300,758.3 C304.38,758.8 306.04,759.3 312.5,759.9 C318.96,760.5 330,761.55 338.75,761.9 C347.5,762.25 358.12,762.12 365,762 C371.88,761.88 375.5,761.53 380,761.2 C384.5,760.87 387.67,760.53 392,760 C396.33,759.47 399.25,759.2 406,758 C412.75,756.8 423.71,754.7 432.5,752.8 C441.29,750.9 451.46,748.37 458.75,746.6 C466.04,744.83 470.62,743.23 476.25,742.2 C481.88,741.17 489.79,740.7 492.5,740.4" fill="none" stroke="#151515" stroke-width="1.9" />
<path d="M274.9,758.9 C275.75,759.25 278.11,760.48 280,761 C281.89,761.52 282.92,761.67 286.25,762 C289.58,762.33 295.62,762.7 300,763 C304.38,763.3 306.04,763.43 312.5,763.8 C318.96,764.17 330,764.92 338.75,765.2 C347.5,765.48 358.12,765.55 365,765.5 C371.88,765.45 375.5,765.18 380,764.9 C384.5,764.62 387.67,764.28 392,763.8 C396.33,763.32 399.25,763.13 406,762 C412.75,760.87 423.71,758.83 432.5,757 C441.29,755.17 451.46,752.75 458.75,751 C466.04,749.25 470.62,747.73 476.25,746.5 C481.88,745.27 489.79,744.08 492.5,743.6" fill="none" stroke="#151515" stroke-width="1.4" />
<path d="M492.5,740.4 L492.5,743.6" fill="none" stroke="#151515" stroke-width="2.2" />
<line x1="565.5" y1="79.5" x2="627" y2="79.5" stroke="#151515" stroke-width="2.2"/>
<line x1="566" y1="79.5" x2="432.5" y2="144.5" stroke="#151515" stroke-width="1.3"/>
<circle cx="432.5" cy="144.5" r="2.4" fill="#151515"/>
<line x1="565.5" y1="185.5" x2="627" y2="185.5" stroke="#151515" stroke-width="2.2"/>
<line x1="566" y1="185.6" x2="435.5" y2="186.4" stroke="#8a8a8a" stroke-width="2"/>
<line x1="566.5" y1="301" x2="627" y2="301" stroke="#151515" stroke-width="2.2"/>
<line x1="567" y1="301" x2="445" y2="214.7" stroke="#151515" stroke-width="1.3"/>
<line x1="566.5" y1="465.5" x2="627" y2="465.5" stroke="#151515" stroke-width="2.2"/>
<line x1="567" y1="465.5" x2="454.3" y2="396" stroke="#151515" stroke-width="1.3"/>
<circle cx="454.3" cy="396" r="2.4" fill="#151515"/>
<line x1="566.5" y1="620" x2="627" y2="620" stroke="#151515" stroke-width="2.2"/>
<line x1="567" y1="620" x2="404" y2="557.6" stroke="#151515" stroke-width="1.3"/>
<line x1="566.5" y1="698.3" x2="627" y2="698.3" stroke="#151515" stroke-width="2.2"/>
<line x1="567" y1="698.3" x2="479" y2="740.2" stroke="#151515" stroke-width="1.3"/>
<path d="M471,743.6 L478.5,738.3 L484.6,741 Z" fill="#151515" stroke="#151515" stroke-width="1" />
<path d="M595.5,40 L600.4,40 L600.4,68.2 L602.4,68.6 L602.4,71 L592.2,71 L592.2,68.6 L595.5,68.2 L595.5,45 L592,46.6 L592,43.8 Z" fill="#151515"/>
<path d="M592.1,157.6 C591.6,150.8 594.2,148.3 597.8,148.3 C601.2,148.3 602.8,150.8 602.8,154.2 C602.8,159.5 597.5,166.5 592.6,174.9 L603.6,174.9" fill="none" stroke="#151515" stroke-width="3.4" stroke-linecap="butt" stroke-linejoin="miter"/>
<path d="M603,176.5 L603,170.2" fill="none" stroke="#151515" stroke-width="2.4" stroke-linecap="butt" stroke-linejoin="miter"/>
<path d="M592.3,269.2 C592.4,265.2 594.4,263.7 597.2,263.7 C600.4,263.7 601.9,265.9 601.9,268.9 C601.9,272.6 600.2,275.2 596.6,275.9 C600.8,276.4 602.5,279.3 602.5,283.1 C602.5,287.5 600.6,290.3 597.2,290.3 C594.2,290.3 592.3,288.3 592,284.6" fill="none" stroke="#151515" stroke-width="3.4" stroke-linecap="butt" stroke-linejoin="miter"/>
<path d="M600.2,425.6 L600.2,455" fill="none" stroke="#151515" stroke-width="3.4" stroke-linecap="butt" stroke-linejoin="miter"/>
<path d="M599.6,426.4 L591.8,445.6 L604,445.6" fill="none" stroke="#151515" stroke-width="3" stroke-linecap="butt" stroke-linejoin="miter"/>
<path d="M595,454.8 L603.8,454.8" fill="none" stroke="#151515" stroke-width="2.8" stroke-linecap="butt" stroke-linejoin="miter"/>
<path d="M603.6,581.7 L593.7,581.7 L593.5,595.2" fill="none" stroke="#151515" stroke-width="3.2" stroke-linecap="butt" stroke-linejoin="miter"/>
<path d="M593.2,595.6 C594.6,592.6 596.2,591.7 597.8,591.7 C601,591.7 602.5,595 602.5,600.5 C602.5,606 600.6,609 597.3,609 C594.3,609 592.4,607 592,603.2" fill="none" stroke="#151515" stroke-width="3.4" stroke-linecap="butt" stroke-linejoin="miter"/>
<path d="M602.5,666 C602.2,663 600.6,662 598.4,662 C594.5,662 592.3,667.5 592.3,676 C592.3,685 594.2,688.9 597.5,688.9 C600.8,688.9 602.6,686 602.6,681.3 C602.6,676.5 600.9,673.7 597.9,673.7 C595.2,673.7 593.3,675.8 592.5,679.2" fill="none" stroke="#151515" stroke-width="3.4" stroke-linecap="butt" stroke-linejoin="miter"/>
</g>
</svg>
</body></html>
